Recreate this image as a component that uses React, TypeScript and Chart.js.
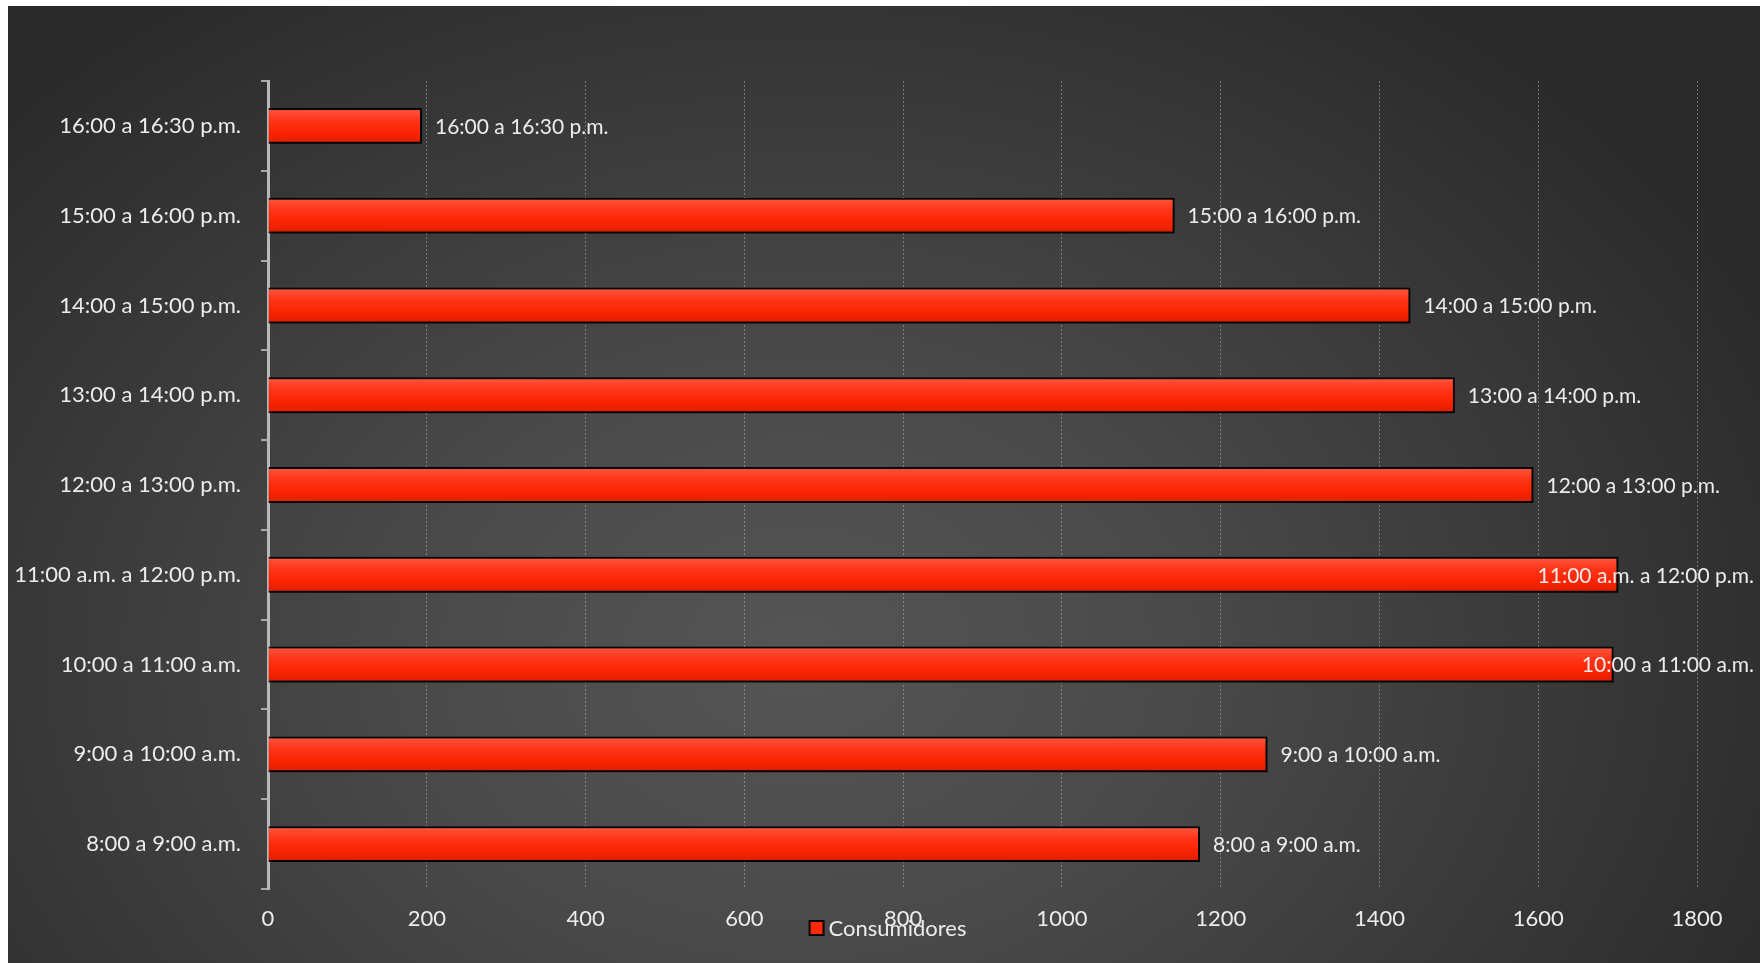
import React, { useEffect, useRef } from "react";
import { Chart, registerables } from "chart.js";

Chart.register(...registerables);

const categories = [
  "16:00 a 16:30 p.m.",
  "15:00 a 16:00 p.m.",
  "14:00 a 15:00 p.m.",
  "13:00 a 14:00 p.m.",
  "12:00 a 13:00 p.m.",
  "11:00 a.m. a 12:00 p.m.",
  "10:00 a 11:00 a.m.",
  "9:00 a 10:00 a.m.",
  "8:00 a 9:00 a.m.",
];
const consumidores = [194, 1142, 1439, 1495, 1594, 1701, 1695, 1259, 1174];
const seriesName = "Consumidores";
const xMin = 0;
const xMax = 1800;
const xStep = 200;

const FONT = "Lato, Calibri, 'Noto Sans', sans-serif";
const TEXT = "#ececec";
const BAR_PCT = 0.4;

const barShadow = {
  id: "barShadow",
  beforeDatasetDraw(chart: any) {
    const ctx = chart.ctx;
    ctx.save();
    ctx.shadowColor = "rgba(0,0,0,0.65)";
    ctx.shadowBlur = 6;
    ctx.shadowOffsetX = 2;
    ctx.shadowOffsetY = 3;
  },
  afterDatasetDraw(chart: any) {
    chart.ctx.restore();
  },
};

const dataLabels = {
  id: "dataLabels",
  afterDatasetsDraw(chart: any) {
    const ctx = chart.ctx;
    const meta = chart.getDatasetMeta(0);
    const labels = chart.data.labels as string[];
    ctx.save();
    ctx.font = `21px ${FONT}`;
    ctx.fillStyle = TEXT;
    ctx.textAlign = "left";
    ctx.textBaseline = "middle";
    meta.data.forEach((bar: any, i: number) => {
      const text = labels[i];
      const w = ctx.measureText(text).width;
      let x = bar.x + 13;
      const limit = chart.width - 6;
      if (x + w > limit) x = limit - w;
      ctx.fillText(text, x, bar.y + 1);
    });
    ctx.restore();
  },
};

const customLegend = {
  id: "customLegend",
  afterDraw(chart: any) {
    const ctx = chart.ctx;
    const label = chart.data.datasets[0].label as string;
    ctx.save();
    ctx.font = `22px ${FONT}`;
    const tw = ctx.measureText(label).width;
    const box = 14;
    const gap = 5;
    const total = box + gap + tw;
    const cx = chart.width / 2 + 4;
    const x0 = cx - total / 2;
    const cy = chart.height - 35;
    ctx.fillStyle = "#ff2a08";
    ctx.fillRect(x0, cy - box / 2, box, box);
    ctx.strokeStyle = "#000";
    ctx.lineWidth = 2;
    ctx.strokeRect(x0, cy - box / 2, box, box);
    ctx.fillStyle = TEXT;
    ctx.textAlign = "left";
    ctx.textBaseline = "middle";
    ctx.fillText(label, x0 + box + gap, cy + 1);
    ctx.restore();
  },
};

function barGradient(c: any) {
  const chart = c.chart;
  const y = chart.scales?.y;
  if (!chart.chartArea || !y || c.dataIndex === undefined) return "#ff2a08";
  const center = y.getPixelForValue(c.dataIndex);
  const cat = (y.bottom - y.top) / categories.length;
  const h = cat * BAR_PCT;
  const g = chart.ctx.createLinearGradient(0, center - h / 2, 0, center + h / 2);
  g.addColorStop(0, "#ff5840");
  g.addColorStop(0.35, "#ff3418");
  g.addColorStop(0.7, "#fa2400");
  g.addColorStop(1, "#dc1e00");
  return g;
}

export default function App() {
  const ref = useRef<HTMLCanvasElement>(null);

  useEffect(() => {
    if (!ref.current) return;
    const chart = new Chart(ref.current, {
      type: "bar",
      data: {
        labels: categories,
        datasets: [
          {
            label: seriesName,
            data: consumidores,
            backgroundColor: barGradient as any,
            borderColor: "#050505",
            borderWidth: 2,
            barPercentage: BAR_PCT,
            categoryPercentage: 1,
          },
        ],
      },
      options: {
        indexAxis: "y",
        animation: false,
        responsive: false,
        maintainAspectRatio: false,
        layout: { padding: { top: 75, right: 63, left: 0, bottom: 0 } },
        plugins: {
          legend: { display: false },
          tooltip: { enabled: false },
        },
        scales: {
          x: {
            type: "linear",
            min: xMin,
            max: xMax,
            ticks: {
              stepSize: xStep,
              color: TEXT,
              font: { family: FONT, size: 22 },
              padding: 17,
              callback: (v: any) => String(v),
            },
            grid: {
              display: true,
              drawOnChartArea: true,
              drawTicks: false,
              color: "rgba(175,175,175,0.55)",
              lineWidth: 1,
            },
            border: { display: false, dash: [2, 2] },
            afterFit(scale: any) {
              scale.height = 74;
            },
          },
          y: {
            type: "category",
            offset: true,
            ticks: {
              color: TEXT,
              font: { family: FONT, size: 22 },
              padding: 20,
            },
            grid: {
              offset: true,
              drawOnChartArea: false,
              drawTicks: true,
              tickLength: 7,
              color: "#a8a8a8",
              lineWidth: 2,
            },
            border: { display: true, color: "#b8b8b8", width: 3 },
            afterFit(scale: any) {
              scale.width = 260;
            },
          },
        },
      },
      plugins: [barShadow, dataLabels, customLegend],
    });
    return () => chart.destroy();
  }, []);

  return (
    <div
      style={{
        position: "absolute",
        left: 8,
        top: 6,
        width: 1752,
        height: 957,
        background:
          "radial-gradient(ellipse 62% 85% at 45% 68%, #555555 0%, #4a4a4a 35%, #2a2a2a 100%)",
      }}
    >
      <canvas ref={ref} width={1752} height={957} style={{ display: "block" }} />
    </div>
  );
}
